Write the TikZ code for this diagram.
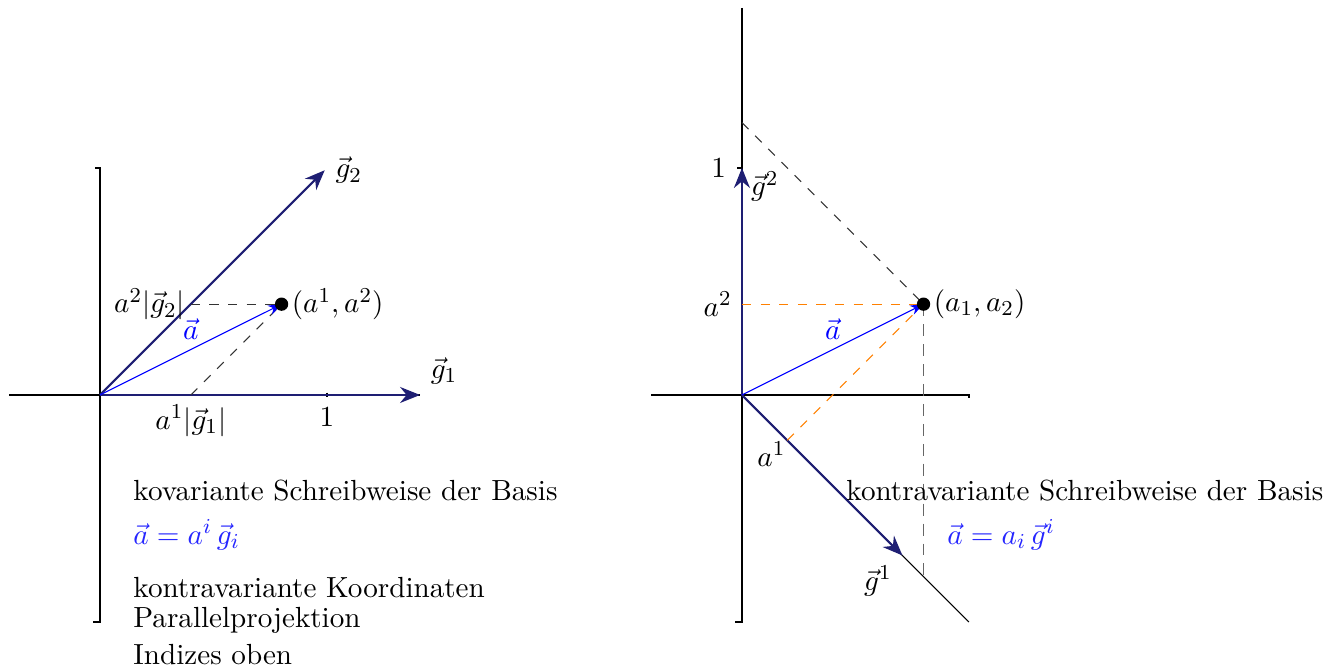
\documentclass[tikz,border=0pt,11pt]{standalone}
\usepackage{amsmath}
\usetikzlibrary{arrows.meta, positioning, calc}

\definecolor{navyblue}{RGB}{30,30,115}

\tikzset{
    axis/.style={semithick},
    basis/.style={-{Stealth[length=7.5pt, width=6pt]}, thick, navyblue},
    vecline/.style={-{Stealth[length=5pt]}, blue},
    proj/.style={dash pattern=on 3.5pt off 3.5pt, black!80},
    oproj/.style={dash pattern=on 3.5pt off 3.5pt, orange},
    txt/.style={anchor=west, inner sep=0pt},
    lbl/.style={text=black},
}

\begin{document}
\begin{tikzpicture}[x=3cm, y=3cm, >=Stealth]

    \useasboundingbox (-0.4405,-1.207) rectangle (5.4626,1.740);

    % Define variables/coordinates
    \def\Shift{2.828}

    % ---------- covariant basis ----------
    \coordinate (O) at (0,0);
    \coordinate (A) at (0.8,0.4);
    \coordinate (P1) at (0.4,0);
    \coordinate (P2) at (0.4,0.4);

    % Draw axes
    \draw[axis] (-0.4,0) -- (1.41,0);
    \draw[axis] (-0.02,1) -- (0,1) -- (0,-1) -- (-0.03,-1);
    \draw (1,0.01) -- (1,-0.01) node[below] {$1$};

    % Basis vectors
    \draw[basis] (O) -- (1.41,0) node[lbl, above right] {$\vec{g}_1$};
    \draw[basis] (O) -- (0.99,0.99) node[lbl, right] {$\vec{g}_2$};

    % Projections
    \draw[proj] (P1) -- (A);
    \draw[proj] (P2) -- (A);
    \node[left, inner sep=2pt] at (P2) {$a^2|\vec{g}_2|$};
    \node[below] at (P1) {$a^1|\vec{g}_1|$};

    % Vector a
    \draw[vecline] (O) -- (A) node[midway, above] {$\vec{a}$};
    \fill (A) circle (2.5pt) node[right] {$(a^1,a^2)$};

    % Text
    \node[txt] (cov) at (0.145,-0.419) {kovariante Schreibweise der Basis};
    \node[txt, blue!85] (coveq) at (0.145,-0.617) {$\vec{a}=a^i\,\vec{g}_i$};
    \node[txt] (kk) at (0.145,-0.850) {kontravariante Koordinaten};
    \node[txt] (pp) at (0.145,-0.991) {Parallelprojektion};
    \node[txt] (io) at (0.145,-1.145) {Indizes oben};

    % ---------- contravariant basis ----------
    \begin{scope}[xshift=\Shift*3cm]
        \coordinate (Q) at (0,0);
        \coordinate (B) at (0.8,0.4);
        \coordinate (B1) at (0.2,-0.2);
        \coordinate (B2) at (0,0.4);
        \coordinate (B3) at (0.8,-0.8);
        \coordinate (Top) at (0,1.2);

        % Draw axes
        \draw[axis] (-0.4,0) -- (1,0) -- (1,-0.015);
        \draw[axis] (0,1.705) -- (0,-1) -- (-0.03,-1);
        \draw (-0.02,1) -- (0,1);
        \draw[thin] (Q) -- (1,-1);

        % Basis vectors
        \draw[basis] (Q) -- (0,1) node[lbl, left=2pt] {$1$}
            node[lbl, anchor=north west, inner sep=1pt, xshift=2pt] {$\vec{g}^2$};
        \draw[basis] (Q) -- (0.707,-0.707) node[lbl, below left] {$\vec{g}^1$};

        % Projections
        \draw[proj] (Top) -- (B);
        \draw[black!60, semithick, dash pattern=on 4.5pt off 3pt] (B) -- (B3);
        \draw[oproj] (B2) -- (B);
        \draw[oproj] (B1) -- (B);
        \node[left] at (B2) {$a^2$};
        \node[below left, inner sep=0.5pt] at (B1) {$a^1$};

        % Vector a
        \draw[vecline] (Q) -- (B) node[midway, above] {$\vec{a}$};
        \fill (B) circle (2.5pt) node[right] {$(a_1,a_2)$};

        % Text
        \node[txt] (contra) at (0.458,-0.419) {kontravariante Schreibweise der Basis};
        \node[txt, blue!85] (contraeq) at (0.903,-0.617) {$\vec{a}=a_i\,\vec{g}^i$};
    \end{scope}

\end{tikzpicture}
\end{document}
